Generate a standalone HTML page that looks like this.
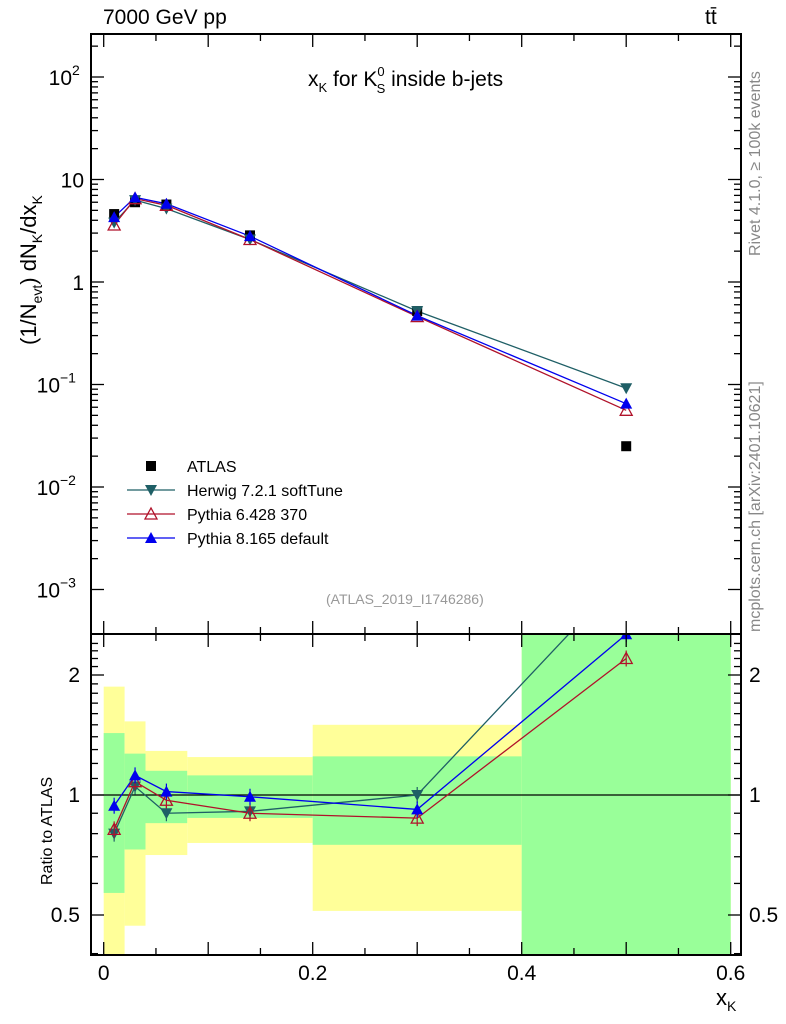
<!DOCTYPE html>
<html><head><meta charset="utf-8"><style>
body{margin:0;background:#fff;font-family:"Liberation Sans",sans-serif;overflow:hidden;width:786px;height:1024px;position:relative}
svg text{font-family:"Liberation Sans",sans-serif}
</style></head><body>
<svg id="c" width="786" height="1024" xmlns="http://www.w3.org/2000/svg" style="position:absolute;left:0;top:0">
<text x="103" y="24" font-size="21">7000 GeV pp</text>
<text x="705" y="24" font-size="21">tt̄</text>
<text x="308" y="86" font-size="21">x<tspan font-size="13" dy="6">K</tspan><tspan dy="-6"> for K</tspan><tspan font-size="13" dx="0" dy="-10">0</tspan><tspan font-size="13" dx="-8" dy="17">S</tspan><tspan dy="-7"> inside b-jets</tspan></text>
<text transform="translate(36,345) rotate(-90)" font-size="22">(1/N<tspan font-size="14" dy="6">evt</tspan><tspan dy="-6">) dN</tspan><tspan font-size="14" dy="6">K</tspan><tspan dy="-6">/dx</tspan><tspan font-size="14" dy="6">K</tspan></text>
<text transform="translate(52,885) rotate(-90)" font-size="16">Ratio to ATLAS</text>
<text x="716" y="1005" font-size="22">x<tspan font-size="14" dy="6">K</tspan></text>
<text transform="translate(760,256) rotate(-90)" font-size="16" fill="#888">Rivet 4.1.0, ≥ 100k events</text>
<text transform="translate(760,632) rotate(-90)" font-size="16" fill="#888">mcplots.cern.ch [arXiv:2401.10621]</text>
<text x="326" y="604" font-size="14" fill="#999">(ATLAS_2019_I1746286)</text>
</svg>
<script>
const xCenters=[0.01,0.03,0.06,0.14,0.3,0.5];
const binEdges=[0,0.02,0.04,0.08,0.2,0.4,0.6];
const atlas=[4.6,6.0,5.7,2.85,0.52,0.025];
const herwig=[3.8,6.3,5.2,2.6,0.52,0.092];
const pythia6=[3.6,6.5,5.6,2.6,0.46,0.056];
const pythia8=[4.3,6.7,5.8,2.8,0.47,0.065];
const herwigR=[0.8,1.05,0.9,0.91,1.0,3.6];
const pythia6R=[0.82,1.08,0.97,0.9,0.875,2.2];
const pythia8R=[0.94,1.12,1.02,0.99,0.92,2.53];
const yelLo=[0.3,0.47,0.707,0.758,0.512,0.1];
const yelHi=[1.87,1.53,1.29,1.245,1.5,10];
const grnLo=[0.568,0.73,0.85,0.876,0.75,0.2];
const grnHi=[1.43,1.27,1.15,1.12,1.25,5];
const xTicks=[0,0.2,0.4,0.6];
const yTicksMain=[[100,'10','2'],[10,'10',''],[1,'1',''],[0.1,'10','−1'],[0.01,'10','−2'],[0.001,'10','−3']];
const ratioTicks=[2,1,0.5];

const L=91,R=741,T=34,MB=634,B=955;
const X=v=>103.7+v*1045;
const Y=v=>282-102.5*Math.log10(v);
const YR=v=>795-120*Math.log2(v);
const svg=document.getElementById('c');
const NS='http://www.w3.org/2000/svg';
function el(t,a,p){const e=document.createElementNS(NS,t);for(const k in a)e.setAttribute(k,a[k]);(p||svg).appendChild(e);return e;}

const clipR=el('clipPath',{id:'cr'});el('rect',{x:L,y:MB,width:R-L,height:B-MB},clipR);
const gR=el('g',{'clip-path':'url(#cr)'});
for(let i=0;i<xCenters.length;i++){
 const x0=X(binEdges[i]),x1=X(binEdges[i+1]);
 const y=el('rect',{x:x0,y:YR(yelHi[i]),width:x1-x0,height:YR(yelLo[i])-YR(yelHi[i]),fill:'#ffff99'},gR);
 
 
 const g=el('rect',{x:x0,y:YR(grnHi[i]),width:x1-x0,height:YR(grnLo[i])-YR(grnHi[i]),fill:'#99ff99'},gR);
 
 
}
el('line',{x1:L,x2:R,y1:YR(1),y2:YR(1),stroke:'#000','stroke-width':1.3},gR);

function marker(g,type,x,y,col){
 if(type==='sq')return el('rect',{x:x-5,y:y-5,width:10,height:10,fill:'#000'},g);
 if(type==='dn')return el('polygon',{points:`${x-6},${y-5} ${x+6},${y-5} ${x},${y+6}`,fill:col},g);
 if(type==='up')return el('polygon',{points:`${x-6},${y+5} ${x+6},${y+5} ${x},${y-6}`,fill:col},g);
 if(type==='upo')return el('polygon',{points:`${x-6},${y+5} ${x+6},${y+5} ${x},${y-6}`,fill:'none',stroke:col,'stroke-width':1.3},g);
}
const series=[['herwig',herwig,herwigR,'#1f5f66','dn'],['pythia6',pythia6,pythia6R,'#b0122a','upo'],['pythia8',pythia8,pythia8R,'#0000ee','up']];

const clipM=el('clipPath',{id:'cm'});el('rect',{x:L,y:T,width:R-L,height:MB-T},clipM);
const gM=el('g',{'clip-path':'url(#cm)'});
for(const [n,v,r,c,m] of series){
 const p=el('polyline',{points:xCenters.map((x,i)=>X(x)+','+Y(v[i])).join(' '),fill:'none',stroke:c,'stroke-width':1.3},gM);
 
 
 const pr=el('polyline',{points:xCenters.map((x,i)=>X(x)+','+YR(r[i])).join(' '),fill:'none',stroke:c,'stroke-width':1.3},gR);
 
 
}
for(let i=0;i<xCenters.length;i++){
 const s=marker(gM,'sq',X(xCenters[i]),Y(atlas[i]));
 
 
}
for(const [n,v,r,c,m] of series){
 for(let i=0;i<xCenters.length;i++){
  const a=marker(gM,m,X(xCenters[i]),Y(v[i]),c);
  
  
  const yy=YR(r[i]);
  el('line',{x1:X(xCenters[i]),x2:X(xCenters[i]),y1:yy-8,y2:yy+8,stroke:c,'stroke-width':1.2},gR);
  const b=marker(gR,m,X(xCenters[i]),yy,c);
  
  
 }
}

el('rect',{x:L,y:T,width:R-L,height:MB-T,fill:'none',stroke:'#000','stroke-width':2});
el('rect',{x:L,y:MB,width:R-L,height:B-MB,fill:'none',stroke:'#000','stroke-width':2});
for(let v=0;v<=0.6001;v+=0.05){
 const big=Math.abs(v*10-Math.round(v*10))<1e-6, x=X(v);
 const h=big?13:7;
 for(const [a,d] of [[T,1],[MB,-1],[MB,1],[B,-1]]) el('line',{x1:x,x2:x,y1:a,y2:a+d*h,stroke:'#000','stroke-width':1.3});
}
for(const v of xTicks){
 const t=el('text',{x:X(v),y:980,'font-size':21,'text-anchor':'middle'});t.textContent=String(v);
 
 
}
for(let e=-3;e<=2;e++){for(let k=1;k<=9;k++){const v=k*Math.pow(10,e);const y=Y(v);if(y<T||y>MB)continue;const h=k===1?13:7;
 el('line',{x1:L,x2:L+h,y1:y,y2:y,stroke:'#000','stroke-width':1.3});el('line',{x1:R,x2:R-h,y1:y,y2:y,stroke:'#000','stroke-width':1.3});}}
for(const [v,b,s] of yTicksMain){
 const bx = s ? (s==='2'?72:60) : 84;
 const t=el('text',{x:bx,y:Y(v)+8,'font-size':21,'text-anchor':'end'});t.textContent=b;
 
 
 if(s){const u=el('text',{x:bx,y:Y(v)-2,'font-size':14,'text-anchor':'start'});u.textContent=s;}
}
for(let v=0.4;v<=2.5;v+=0.1){const y=YR(v);if(y<MB||y>B)continue;const big=[0.5,1,2].some(q=>Math.abs(q-v)<1e-6);const h=big?13:7;
 el('line',{x1:L,x2:L+h,y1:y,y2:y,stroke:'#000','stroke-width':1.3});el('line',{x1:R,x2:R-h,y1:y,y2:y,stroke:'#000','stroke-width':1.3});}
for(const v of ratioTicks){for(const [x,a] of [[80,'end'],[749,'start']]){
 const t=el('text',{x,y:YR(v)+7,'font-size':21,'text-anchor':a});t.textContent=String(v);
 
 
}}
// legend
const legend=[['ATLAS','sq','#000',false],['Herwig 7.2.1 softTune','dn','#1f5f66',true],['Pythia 6.428 370','upo','#b0122a',true],['Pythia 8.165 default','up','#0000ee',true]];
legend.forEach(([lab,m,c,ln],i)=>{
 const y=466+i*24;
 const g=el('g',{});
 
 
 if(ln) el('line',{x1:127,x2:175,y1:y,y2:y,stroke:c,'stroke-width':1.3},g);
 marker(g,m,151,y,c);
 const t=el('text',{x:187,y:y+6,'font-size':16},g);t.textContent=lab;
});
</script>
</body></html>
